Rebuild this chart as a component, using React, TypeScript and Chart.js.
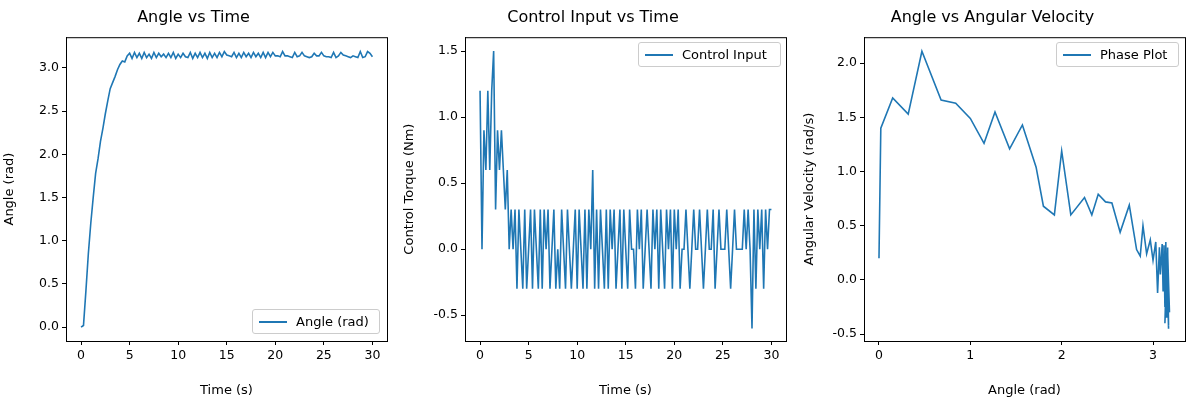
import React, { useRef, useEffect } from "react";
import { Chart, registerables } from "chart.js";

Chart.register(...registerables);

const BLUE = "#1f77b4";
const FONT = "'DejaVu Sans', sans-serif";

// Angle vs Time (dt = 0.25 s)
const angleDt = 0.25;
const angleValues = [
  0, 0.02, 0.42, 0.85, 1.2, 1.5, 1.78, 1.95, 2.15, 2.3, 2.47, 2.62, 2.76, 2.83, 2.9, 2.98, 3.04, 3.08, 3.07, 3.14,
  3.17, 3.11, 3.18, 3.12, 3.17, 3.11, 3.18, 3.12, 3.16, 3.11, 3.18, 3.12, 3.17, 3.13, 3.16, 3.12, 3.17, 3.12, 3.18, 3.11,
  3.16, 3.12, 3.17, 3.13, 3.12, 3.18, 3.11, 3.17, 3.12, 3.18, 3.12, 3.17, 3.11, 3.18, 3.12, 3.17, 3.12, 3.18, 3.13, 3.19,
  3.15, 3.14, 3.13, 3.18, 3.12, 3.17, 3.12, 3.18, 3.13, 3.17, 3.12, 3.18, 3.13, 3.17, 3.12, 3.18, 3.12, 3.18, 3.13, 3.18,
  3.14, 3.14, 3.13, 3.19, 3.14, 3.14, 3.13, 3.12, 3.18, 3.13, 3.14, 3.18, 3.14, 3.13, 3.12, 3.13, 3.17, 3.14, 3.14, 3.18,
  3.14, 3.13, 3.13, 3.12, 3.18, 3.12, 3.14, 3.18, 3.15, 3.14, 3.13, 3.12, 3.14, 3.13, 3.12, 3.19, 3.12, 3.13, 3.19, 3.17, 3.13,
];

// Control Input vs Time (dt = 0.2 s)
const torqueDt = 0.2;
const torqueValues = [
  1.2, 0, 0.9, 0.6, 1.2, 0.6, 1.2, 1.5, 0.3, 0.9, 0.6, 0.9, 0.6, 0.3, 0.6, 0, 0.3, 0, 0.3, -0.3, 0.3, 0, -0.3, 0.3, -0.3,
  0, 0.3, -0.3, 0.3, 0, -0.3, 0.3, -0.3, 0.3, 0, 0.3, -0.3, 0, 0.3, -0.3, 0, -0.3, 0.3, 0, -0.3, 0.3, 0, -0.3, 0, 0.3,
  -0.3, 0.3, 0, -0.3, 0.3, -0.3, 0.3, 0, 0.6, -0.3, 0.3, -0.3, 0.3, 0, -0.3, 0.3, -0.3, 0.3, 0, 0.3, -0.3, 0, 0.3, -0.3, 0.3,
  0, -0.3, 0.3, 0, 0, -0.3, 0.3, 0, 0.3, -0.3, 0, 0.3, 0, -0.3, 0.3, 0, 0.3, -0.3, 0.3, 0, -0.3, 0.3, 0, 0.3, -0.3,
  0.3, 0, 0.3, -0.3, 0, 0, 0.3, 0, -0.3, 0, 0.3, 0, 0, 0.3, 0, -0.3, 0, 0.3, 0, 0, 0.3, -0.3, 0, 0.3, 0,
  0, 0, 0.3, 0, -0.3, 0, 0.3, 0, 0, 0, 0, 0.3, 0, 0.3, 0, -0.6, 0.3, -0.3, 0.3, 0, 0.3, -0.3, 0.3, 0, 0.3,
  0.3,
];

// Phase plot
const phaseAngle = [
  0, 0.02, 0.15, 0.32, 0.47, 0.68, 0.84, 1.0, 1.15, 1.27, 1.43, 1.57, 1.72, 1.8, 1.92, 2.0, 2.1, 2.25, 2.33, 2.4,
  2.48, 2.55, 2.64, 2.74, 2.82, 2.86, 2.89, 2.93, 2.97, 3.0, 3.03, 3.05, 3.07, 3.08, 3.1, 3.11, 3.12, 3.13, 3.14,
  3.15, 3.16, 3.17, 3.15, 3.13, 3.16, 3.18, 3.15, 3.17, 3.16, 3.14, 3.15,
];
const phaseVelocity = [
  0.2, 1.4, 1.68, 1.53, 2.11, 1.66, 1.63, 1.49, 1.26, 1.55, 1.21, 1.43, 1.04, 0.68, 0.6, 1.19, 0.6, 0.76, 0.6, 0.79,
  0.72, 0.71, 0.44, 0.69, 0.28, 0.22, 0.5, 0.24, 0.37, 0.18, 0.35, -0.12, 0.3, 0.05, 0.33, -0.1, 0.32, -0.25, 0.35,
  -0.35, 0.3, -0.45, 0.2, -0.4, 0.25, -0.3, 0.1, -0.42, 0.15, -0.2, 0.0,
];

const timeTicks = [0, 5, 10, 15, 20, 25, 30];
const angleTicks = [0, 0.5, 1, 1.5, 2, 2.5, 3];
const torqueTicks = [-0.5, 0, 0.5, 1, 1.5];
const phaseXTicks = [0, 1, 2, 3];
const phaseYTicks = [-0.5, 0, 0.5, 1, 1.5, 2];

const frame = {
  id: "frame",
  afterDraw(chart: any) {
    const { ctx, chartArea: a } = chart;
    ctx.save();
    ctx.strokeStyle = "#000";
    ctx.lineWidth = 1;
    ctx.strokeRect(a.left + 0.5, a.top + 0.5, a.right - a.left, a.bottom - a.top);
    ctx.restore();
  },
};

const axis = (title: string, min: number, max: number, ticks: number[], fmt: (v: number) => string, size: number, isX: boolean) => ({
  type: "linear",
  min,
  max,
  title: { display: true, text: title, color: "#000", font: { family: FONT, size: 13 }, padding: { top: 2, bottom: 2 } },
  grid: { drawOnChartArea: false, color: "#000", tickLength: 4, tickColor: "#000" },
  border: { color: "#000" },
  ticks: { color: "#000", font: { family: FONT, size: 12.5 }, padding: 3, autoSkip: false, maxRotation: 0, callback: (v: any) => fmt(Number(v)) },
  afterBuildTicks: (s: any) => { s.ticks = ticks.map((v) => ({ value: v })); },
  afterFit: (s: any) => { if (isX) s.height = size; else s.width = size; },
});

interface PanelProps {
  left: number;
  yWidth: number;
  padRight: number;
  title: string;
  xs: number[];
  ys: number[];
  xAxis: any;
  yAxis: any;
}

const Panel: React.FC<PanelProps> = ({ left, yWidth, padRight, title, xs, ys, xAxis, yAxis }) => {
  const ref = useRef<HTMLCanvasElement | null>(null);
  useEffect(() => {
    if (!ref.current) return;
    const chart = new Chart(ref.current, {
      type: "scatter",
      data: {
        datasets: [{
          data: xs.map((x, i) => ({ x, y: ys[i] })),
          showLine: true,
          borderColor: BLUE,
          borderWidth: 1.6,
          pointRadius: 0,
          tension: 0,
        }],
      },
      options: {
        animation: false,
        responsive: false,
        layout: { padding: { left: 0, right: padRight, top: 0, bottom: 0 } },
        plugins: {
          legend: { display: false },
          tooltip: { enabled: false },
          title: { display: true, text: title, color: "#000", font: { family: FONT, size: 16, weight: "normal" }, padding: { top: 8, bottom: 10 } },
        },
        scales: { x: xAxis, y: yAxis },
      } as any,
      plugins: [frame],
    });
    void yWidth;
    return () => chart.destroy();
  }, []);
  return <canvas ref={ref} width={400} height={400} style={{ position: "absolute", left, top: 0, width: 400, height: 400 }} />;
};

const Legend: React.FC<{ left: number; top: number; width: number; label: string }> = ({ left, top, width, label }) => (
  <div style={{
    position: "absolute", left, top, width, height: 25, boxSizing: "border-box",
    border: "1px solid #ccc", borderRadius: 3, background: "rgba(255,255,255,0.8)",
    display: "flex", alignItems: "center", fontFamily: FONT, fontSize: 13, color: "#000",
  }}>
    <span style={{ display: "inline-block", width: 28, height: 2, background: BLUE, marginLeft: 6, marginRight: 9 }} />
    {label}
  </div>
);

export default function App() {
  const angleTimes = angleValues.map((_, i) => i * angleDt);
  const torqueTimes = torqueValues.map((_, i) => i * torqueDt);
  const f1 = (v: number) => v.toFixed(1);
  const f0 = (v: number) => String(v);
  return (
    <div style={{ position: "fixed", left: 0, top: 0, width: 1200, height: 400, background: "#fff" }}>
      <Panel left={0} yWidth={66} padRight={13} title="Angle vs Time" xs={angleTimes} ys={angleValues}
        xAxis={axis("Time (s)", -1.55, 31.5, timeTicks, f0, 59, true)}
        yAxis={axis("Angle (rad)", -0.16, 3.356, angleTicks, f1, 66, false)} />
      <Panel left={400} yWidth={65} padRight={14} title="Control Input vs Time" xs={torqueTimes} ys={torqueValues}
        xAxis={axis("Time (s)", -1.55, 31.5, timeTicks, f0, 59, true)}
        yAxis={axis("Control Torque (Nm)", -0.695, 1.605, torqueTicks, f1, 65, false)} />
      <Panel left={800} yWidth={64} padRight={15} title="Angle vs Angular Velocity" xs={phaseAngle} ys={phaseVelocity}
        xAxis={axis("Angle (rad)", -0.164, 3.35, phaseXTicks, f0, 59, true)}
        yAxis={axis("Angular Velocity (rad/s)", -0.564, 2.24, phaseYTicks, f1, 64, false)} />
      <Legend left={252} top={309} width={128} label="Angle (rad)" />
      <Legend left={638} top={42} width={143} label="Control Input" />
      <Legend left={1056} top={42} width={123} label="Phase Plot" />
    </div>
  );
}
